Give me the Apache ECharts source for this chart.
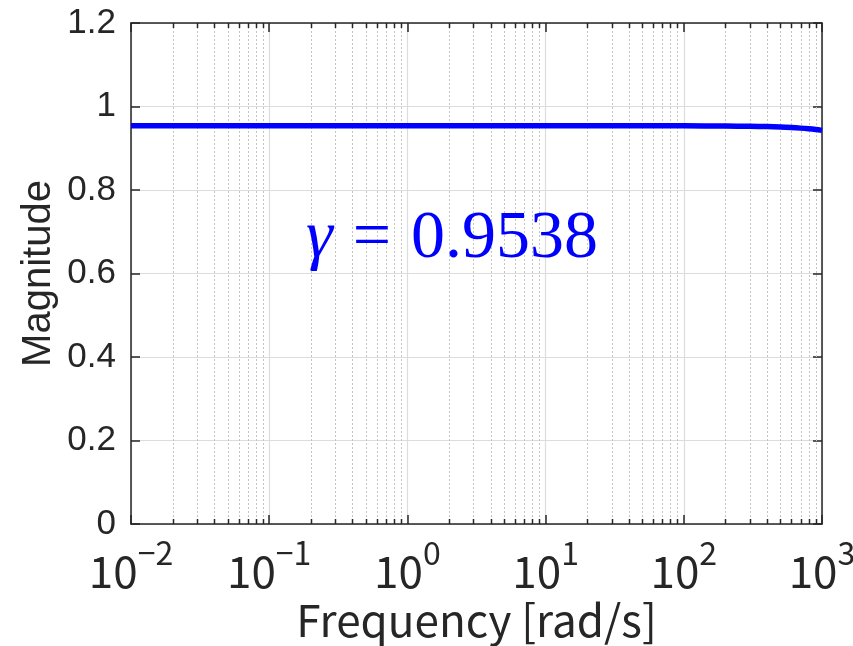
<!DOCTYPE html>
<html>
<head>
<meta charset="utf-8">
<script src="https://cdn.jsdelivr.net/npm/echarts@6/dist/echarts.min.js"></script>
<style>
  html, body { margin: 0; padding: 0; background: #fff; }
  #chart { width: 853px; height: 646px; }
</style>
</head>
<body>
<div id="chart"></div>
<script>
// Frequency response samples (rad/s) and magnitude
const freq = [0.01, 0.1, 1, 10, 100, 200, 300, 400, 500, 600, 700, 800, 900, 1000];
const magnitude = [0.9538, 0.9538, 0.9538, 0.9538, 0.9536, 0.9532, 0.9526, 0.9518, 0.9508, 0.9496, 0.9482, 0.9466, 0.9448, 0.9428];
const gamma = 0.9538;

// Minor decade positions (2..9 x 10^k) for the dotted grid
const minorFreq = [
  0.02, 0.03, 0.04, 0.05, 0.06, 0.07, 0.08, 0.09,
  0.2, 0.3, 0.4, 0.5, 0.6, 0.7, 0.8, 0.9,
  2, 3, 4, 5, 6, 7, 8, 9,
  20, 30, 40, 50, 60, 70, 80, 90,
  200, 300, 400, 500, 600, 700, 800, 900
];

const axisColor = '#262626';
const xFont = "'Noto Sans CJK JP', sans-serif";
const yFont = "'Liberation Sans', Arial, sans-serif";
const Y_MIN = 0, Y_MAX = 1.2;

const chart = echarts.init(document.getElementById('chart'), null, { renderer: 'canvas' });

function decadeLabel(v) {
  const e = Math.round(Math.log10(v));
  const ex = e < 0 ? '\u2212' + (-e) : String(e);
  return '{b|10}{s|' + ex + '}';
}

const option = {
  backgroundColor: '#ffffff',
  animation: false,
  grid: { left: 131, right: 31, top: 23, bottom: 122, containLabel: false, outerBoundsMode: 'none' },
  xAxis: [
    {
      type: 'log', logBase: 10, min: 0.01, max: 1000,
      name: 'Frequency [rad/s]', nameLocation: 'middle', nameGap: 74, nameMoveOverlap: false,
      nameTextStyle: { fontFamily: xFont, fontSize: 44, color: axisColor },
      axisLine: { show: true, onZero: false, lineStyle: { color: axisColor, width: 1.5 } },
      axisTick: { show: true, inside: true, length: 9, lineStyle: { color: axisColor, width: 1.5 } },
      splitLine: { show: true, lineStyle: { color: '#dcdcdc', width: 1.2 } },
      axisLabel: {
        margin: 13,
        formatter: decadeLabel,
        rich: {
          b: { fontFamily: xFont, fontSize: 44, color: axisColor, lineHeight: 56, verticalAlign: 'bottom' },
          s: { fontFamily: xFont, fontSize: 32, color: axisColor, lineHeight: 32, verticalAlign: 'top' }
        }
      }
    },
    {
      type: 'log', logBase: 10, min: 0.01, max: 1000, position: 'top',
      axisLine: { show: true, onZero: false, lineStyle: { color: axisColor, width: 1.5 } },
      axisTick: { show: true, inside: true, length: 9, lineStyle: { color: axisColor, width: 1.5 } },
      axisLabel: { show: false },
      splitLine: { show: false }
    }
  ],
  yAxis: [
    {
      type: 'value', min: Y_MIN, max: Y_MAX, interval: 0.2,
      name: 'Magnitude', nameLocation: 'middle', nameGap: 72, nameRotate: 90, nameMoveOverlap: false,
      nameTextStyle: { fontFamily: yFont, fontSize: 40, color: axisColor },
      axisLine: { show: true, onZero: false, lineStyle: { color: axisColor, width: 1.5 } },
      axisTick: { show: true, inside: true, length: 9, lineStyle: { color: axisColor, width: 1.5 } },
      splitLine: { show: true, lineStyle: { color: '#dcdcdc', width: 1.2 } },
      axisLabel: {
        margin: 15, fontFamily: yFont, fontSize: 35, color: axisColor,
        formatter: v => String(parseFloat(v.toFixed(1)))
      }
    },
    {
      type: 'value', min: Y_MIN, max: Y_MAX, interval: 0.2, position: 'right',
      axisLine: { show: true, onZero: false, lineStyle: { color: axisColor, width: 1.5 } },
      axisTick: { show: true, inside: true, length: 9, lineStyle: { color: axisColor, width: 1.5 } },
      axisLabel: { show: false },
      splitLine: { show: false }
    }
  ],
  graphic: [
    {
      type: 'text', z: 100,
      style: {
        x: 452, y: 239, align: 'center', verticalAlign: 'middle',
        text: '{g|\u03b3}{e|=}{n|' + gamma.toFixed(4) + '}',
        rich: {
          g: { fontFamily: "'Liberation Serif', serif", fontStyle: 'italic', fontSize: 68, fill: '#0000ff' },
          e: { fontFamily: "'Liberation Serif', serif", fontSize: 68, fill: '#0000ff', padding: [0, 20, 0, 20] },
          n: { fontFamily: "'Liberation Serif', serif", fontSize: 68, fill: '#0000ff' }
        }
      }
    }
  ],
  series: [
    {
      // dotted minor grid lines plus short minor ticks on bottom and top edges
      type: 'custom', xAxisIndex: 0, yAxisIndex: 0, z: 1, silent: true,
      data: minorFreq.map(v => [v, Y_MIN]),
      encode: { x: 0, y: 1 },
      renderItem: function (params, api) {
        const v = api.value(0);
        const bot = api.coord([v, Y_MIN]);
        const top = api.coord([v, Y_MAX]);
        const x = Math.round(bot[0]) + 0.5;
        return {
          type: 'group',
          children: [
            { type: 'line', shape: { x1: x, y1: top[1], x2: x, y2: bot[1] },
              style: { stroke: '#c4c4c4', lineWidth: 1, lineDash: [2, 2] } },
            { type: 'line', shape: { x1: x, y1: bot[1], x2: x, y2: bot[1] - 5 },
              style: { stroke: axisColor, lineWidth: 1.5 } },
            { type: 'line', shape: { x1: x, y1: top[1], x2: x, y2: top[1] + 5 },
              style: { stroke: axisColor, lineWidth: 1.5 } }
          ]
        };
      }
    },
    {
      type: 'line', xAxisIndex: 0, yAxisIndex: 0, z: 5,
      data: freq.map((f, i) => [f, magnitude[i]]),
      showSymbol: false, smooth: 0.3,
      lineStyle: { color: '#0000ff', width: 5.5 },
      itemStyle: { color: '#0000ff' }
    }
  ]
};

chart.setOption(option);
</script>
</body>
</html>
